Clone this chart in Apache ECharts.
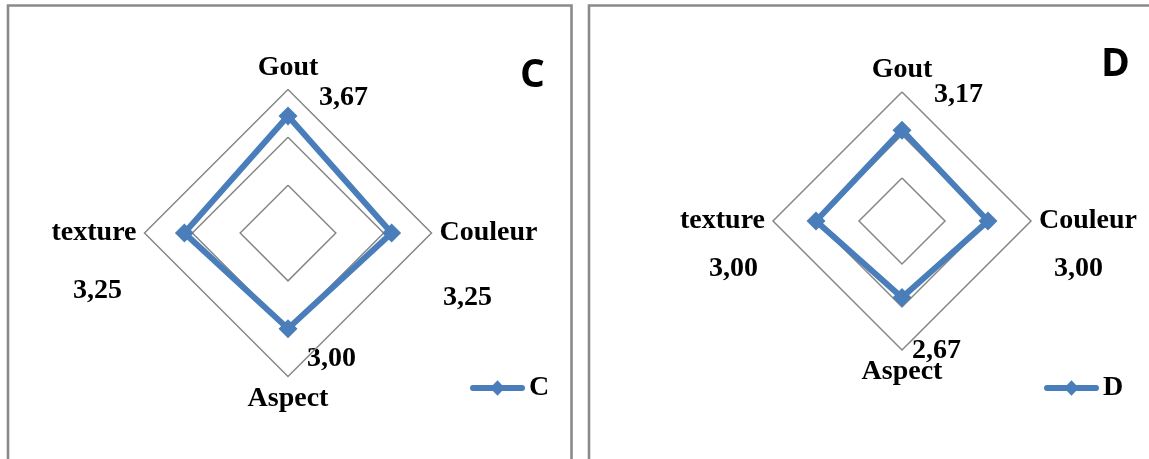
<!DOCTYPE html>
<html>
<head>
<meta charset="utf-8">
<title>Radar C / D</title>
<script src="https://cdn.jsdelivr.net/npm/echarts@6/dist/echarts.min.js"></script>
<style>
  html, body { margin: 0; padding: 0; background: #ffffff; }
  #chart { width: 1149px; height: 459px; }
</style>
</head>
<body>
<div id="chart"></div>
<script>
// Axes in drawing order (top, left, bottom, right)
var axes = ['Gout', 'texture', 'Aspect', 'Couleur'];
// Scores per sample, same order as axes
var valuesC = [3.67, 3.25, 3.00, 3.25];
var valuesD = [3.17, 3.00, 2.67, 3.00];
var seriesNames = ['C', 'D'];
// Scale: 0 to 4.5, rings every 1.5
var scaleMax = 4.5;
var scaleStep = 1.5;

var blue = '#4a7ebb';
var ringColor = '#878787';
var serif = '"Liberation Serif", "Times New Roman", serif';

function fmt(v) { return v.toFixed(2).replace('.', ','); }

function radarConf(center, radius) {
  return {
    center: center,
    radius: radius,
    startAngle: 90,
    shape: 'polygon',
    splitNumber: Math.round(scaleMax / scaleStep),
    indicator: axes.map(function (n) { return { name: n, min: 0, max: scaleMax }; }),
    nameGap: 8,
    axisName: { color: '#000', fontFamily: serif, fontWeight: 'bold', fontSize: 28 },
    axisLine: { show: false },
    axisTick: { show: false },
    axisLabel: { show: false },
    splitArea: { show: false },
    splitLine: { lineStyle: { color: ringColor, width: 1.5 } }
  };
}

// value label anchors (left edge, vertical centre), one per axis
var labelPosC = [[319, 97.5], [73, 291], [307, 358.5], [443, 298]];
var labelPosD = [[934, 94.5], [709, 269], [912, 351], [1054, 269]];

function valueLabels(values, pos) {
  return values.map(function (v, i) {
    return {
      type: 'text',
      x: pos[i][0],
      y: pos[i][1],
      style: {
        text: fmt(v), x: 0, y: 0,
        fill: '#000',
        font: 'bold 28px ' + serif,
        align: 'left', verticalAlign: 'middle'
      }
    };
  });
}

var legendIcon = 'path://M2.5,5 L52.5,5 A2.5,2.5 0 0 1 52.5,11 L2.5,11 A2.5,2.5 0 0 1 2.5,5 Z M27.5,0 L35,8 L27.5,16 L20,8 Z';

var chart = echarts.init(document.getElementById('chart'), null, { renderer: 'canvas' });

function legendConf(name, left) {
  return {
    data: [name], left: left, top: 374, padding: 0,
    icon: legendIcon, itemWidth: 55, itemHeight: 16, itemGap: 4,
    textStyle: { color: '#000', fontFamily: serif, fontWeight: 'bold', fontSize: 28, padding: [0, 0, 0, -1] }
  };
}

function seriesConf(name, idx, values) {
  return {
    type: 'radar', name: name, radarIndex: idx,
    symbol: 'diamond', symbolSize: 19,
    itemStyle: { color: blue },
    lineStyle: { color: blue, width: 6 },
    data: [{ name: name, value: values }]
  };
}

var option = {
  animation: false,
  backgroundColor: '#ffffff',
  radar: [
    radarConf([288, 233], 143.5),
    radarConf([902, 221], 129)
  ],
  legend: [legendConf(seriesNames[0], 470), legendConf(seriesNames[1], 1044)],
  series: [seriesConf(seriesNames[0], 0, valuesC), seriesConf(seriesNames[1], 1, valuesD)],
  graphic: [
    // panel frames
    { type: 'rect', shape: { x: 8, y: 5.5, width: 563.5, height: 470 },
      style: { fill: null, stroke: '#8a8a8a', lineWidth: 2.6 }, silent: true },
    { type: 'rect', shape: { x: 589, y: 5.5, width: 600, height: 470 },
      style: { fill: null, stroke: '#8a8a8a', lineWidth: 2.6 }, silent: true },
    // panel letters
    { type: 'text', x: 520, y: 76,
      style: { text: seriesNames[0], fill: '#000', font: 'bold 39px "Open Sans", "Liberation Sans", sans-serif',
               align: 'left', verticalAlign: 'middle' } },
    { type: 'text', x: 1101, y: 65,
      style: { text: seriesNames[1], fill: '#000', font: 'bold 39px "Open Sans", "Liberation Sans", sans-serif',
               align: 'left', verticalAlign: 'middle' } }
  ].concat(valueLabels(valuesC, labelPosC), valueLabels(valuesD, labelPosD))
};

chart.setOption(option);
</script>
</body>
</html>
